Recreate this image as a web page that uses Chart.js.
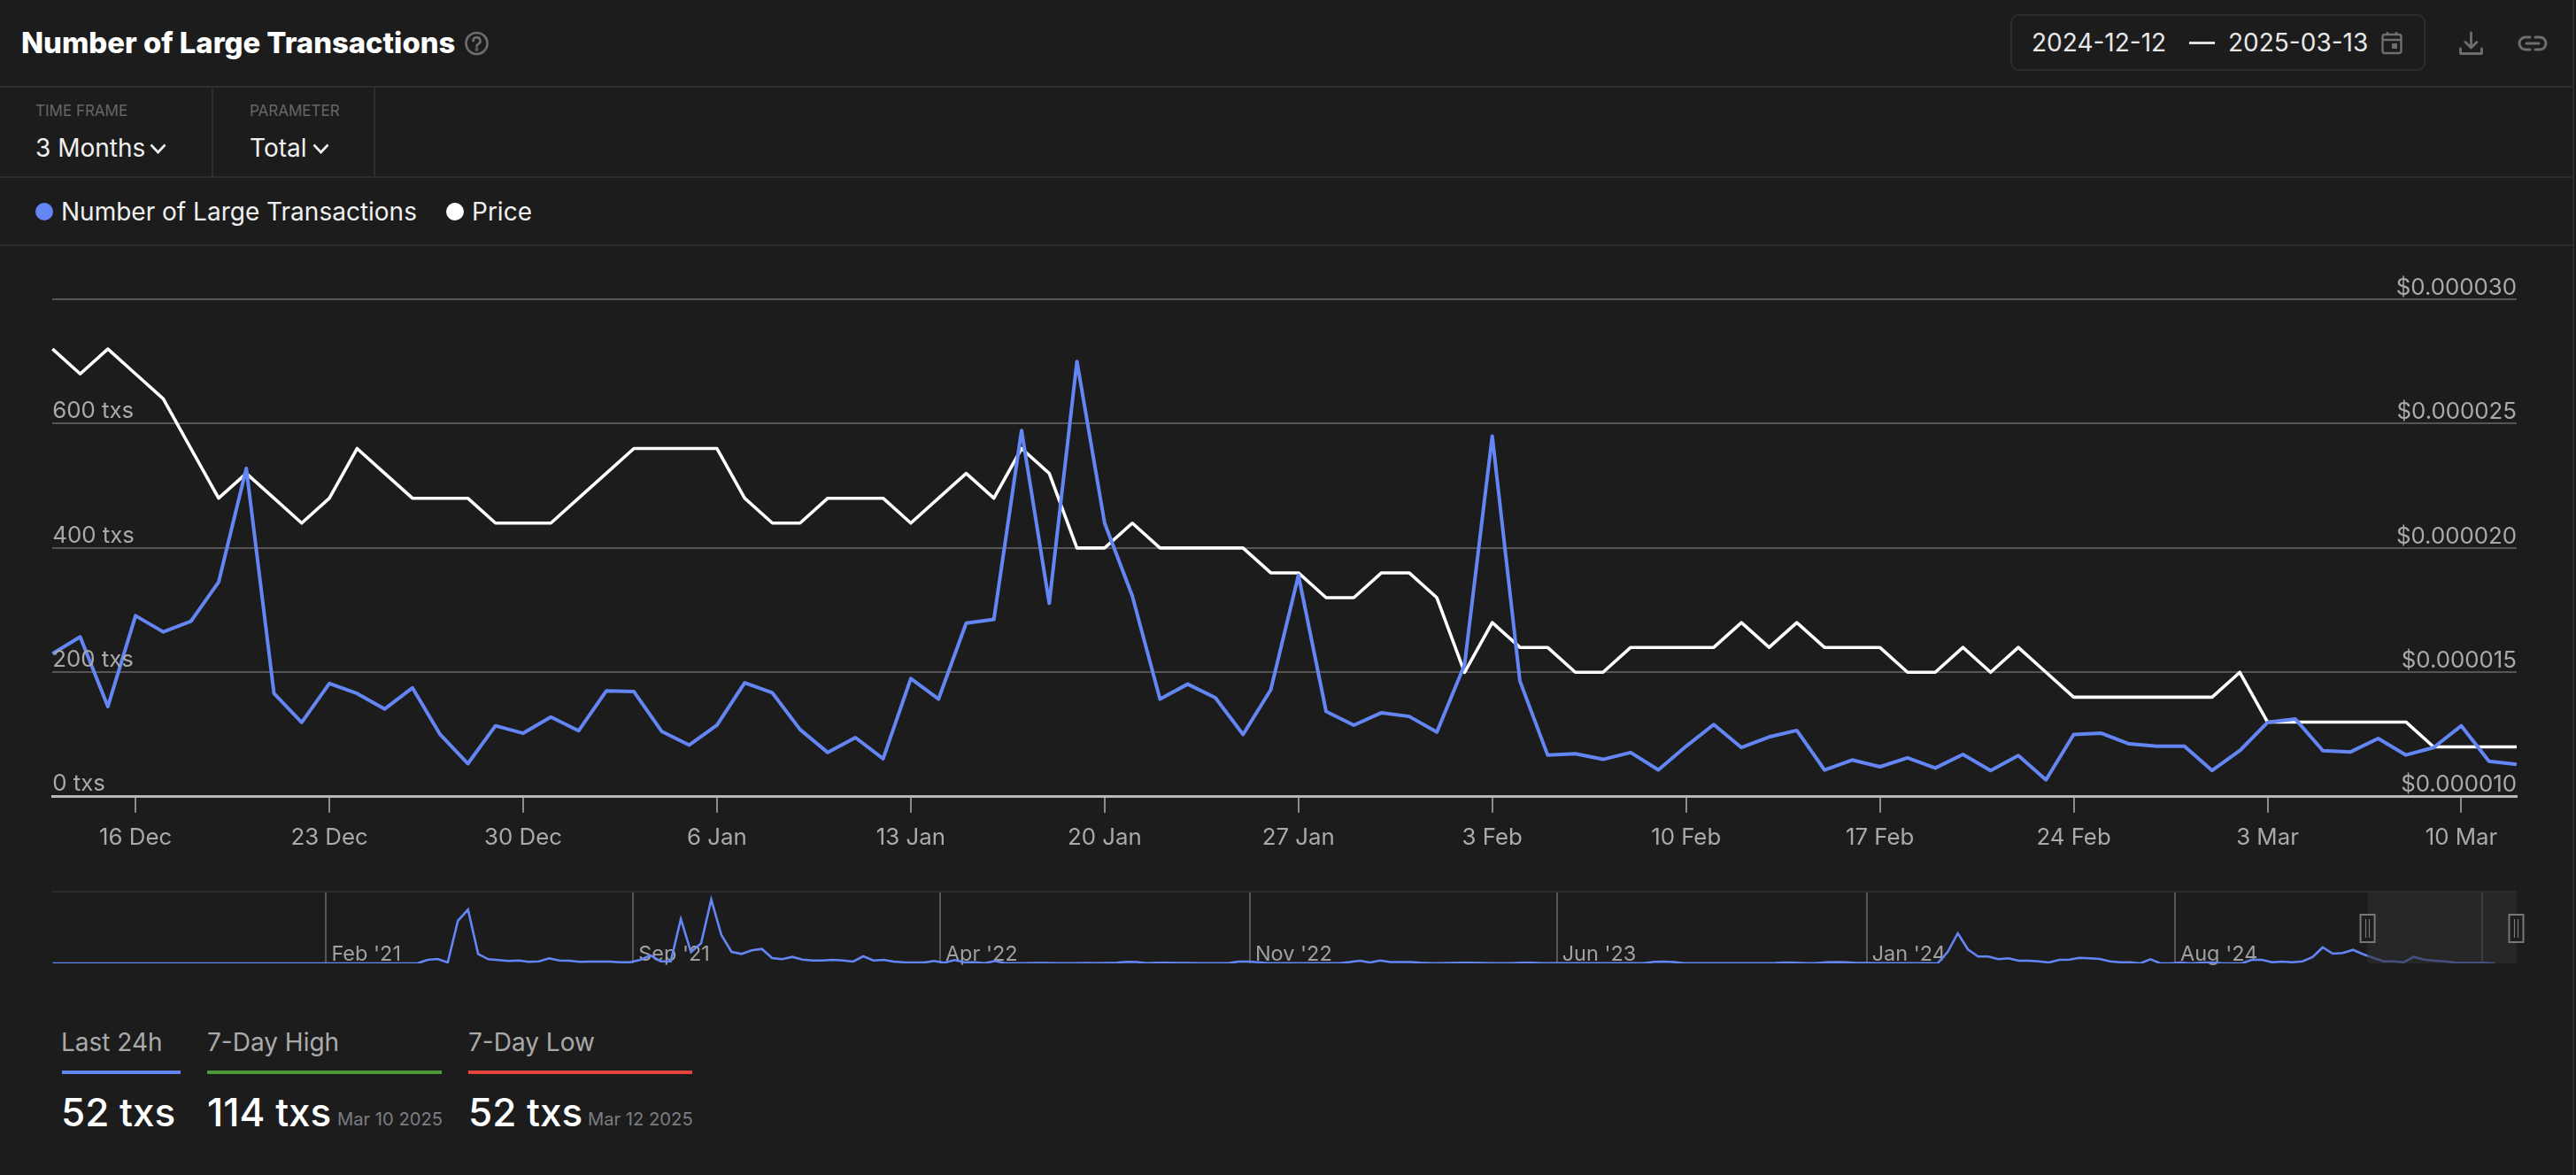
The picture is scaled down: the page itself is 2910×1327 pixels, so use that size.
<!DOCTYPE html>
<html>
<head>
<meta charset="utf-8">
<script src="https://cdn.jsdelivr.net/npm/chart.js@4"></script>
<style>
html,body{margin:0;padding:0;background:#1c1c1c;width:2910px;height:1327px;overflow:hidden;font-family:Inter,"Noto Sans",sans-serif;}
.t{position:absolute;white-space:nowrap;}
.d{position:absolute;background:#2d2d2d;}
svg{position:absolute;overflow:visible;}
canvas{position:absolute;left:0;}
</style>
</head>
<body>
<div class="t" style="left:24px;top:28px;line-height:40px;font-size:32.8px;font-weight:800;color:#fff;">Number of Large Transactions</div>
<svg style="left:525px;top:36px" width="27" height="26" viewBox="0 0 27 26" fill="none" stroke="#6e6e6e" stroke-width="2.6"><circle cx="13.5" cy="13" r="12"/><path d="M9.5 10.2a4 4 0 1 1 5.8 3.5c-1.2.7-1.8 1.4-1.8 2.8" stroke-linecap="round"/><circle cx="13.5" cy="20" r=".6"/></svg>

<div class="t" style="left:2271px;top:16px;width:465px;height:60px;border:2px solid #2c2c2c;border-radius:9px;"></div>
<div class="t" style="left:2295px;top:28px;line-height:40px;font-size:28px;color:#e8e8e8;">2024-12-12</div>
<div class="d" style="left:2473px;top:47px;width:29px;height:3px;background:#e0e0e0"></div>
<div class="t" style="left:2517px;top:28px;line-height:40px;font-size:28px;color:#e8e8e8;">2025-03-13</div>
<svg style="left:2690px;top:35px" width="24" height="26" viewBox="0 0 24 26" fill="none" stroke="#6e6e6e" stroke-width="2.4"><rect x="1.5" y="4" width="21" height="21" rx="2.5"/><path d="M2 10h20M7 1v4M17 1v4"/><rect x="12" y="14" width="6" height="6" fill="#6e6e6e" stroke="none"/></svg>
<svg style="left:2778px;top:36px" width="27" height="27" viewBox="0 0 27 27" fill="none" stroke="#6e6e6e" stroke-width="2.8" stroke-linecap="round" stroke-linejoin="round"><path d="M13.5 1v16M7 11.5l6.5 6.5 6.5-6.5M1.5 19v5.5h24V19"/></svg>
<svg style="left:2844px;top:40px" width="34" height="18" viewBox="0 0 34 18" fill="none" stroke="#6e6e6e" stroke-width="3" stroke-linecap="round"><path d="M14 2H9a7 7 0 0 0 0 14h5M20 2h5a7 7 0 0 1 0 14h-5M10 9h14"/></svg>

<div class="d" style="left:0;top:97px;width:2906px;height:2px"></div>
<div class="d" style="left:0;top:199px;width:2906px;height:2px"></div>
<div class="d" style="left:0;top:276px;width:2906px;height:2px"></div>
<div class="d" style="left:239px;top:98px;width:2px;height:102px"></div>
<div class="d" style="left:422px;top:98px;width:2px;height:102px"></div>
<div class="d" style="left:2906px;top:0;width:2px;height:1327px"></div>

<div class="t" style="left:40px;top:115px;line-height:20px;font-size:17px;color:#666;">TIME FRAME</div>
<div class="t" style="left:40px;top:147px;line-height:40px;font-size:28px;color:#f0f0f0;">3 Months</div>
<svg style="left:169px;top:162px" width="19" height="12" viewBox="0 0 19 12" fill="none" stroke="#f0f0f0" stroke-width="2.6"><path d="M1.5 1.5l8 8.5 8-8.5"/></svg>
<div class="t" style="left:282px;top:115px;line-height:20px;font-size:17px;color:#666;">PARAMETER</div>
<div class="t" style="left:282px;top:147px;line-height:40px;font-size:28px;color:#f0f0f0;">Total</div>
<svg style="left:353px;top:162px" width="19" height="12" viewBox="0 0 19 12" fill="none" stroke="#f0f0f0" stroke-width="2.6"><path d="M1.5 1.5l8 8.5 8-8.5"/></svg>

<div class="t" style="left:40px;top:229px;width:20px;height:20px;border-radius:50%;background:#6486f5"></div>
<div class="t" style="left:69px;top:219px;line-height:40px;font-size:28px;color:#f0f0f0;">Number of Large Transactions</div>
<div class="t" style="left:504px;top:229px;width:20px;height:20px;border-radius:50%;background:#fff"></div>
<div class="t" style="left:533px;top:219px;line-height:40px;font-size:28px;color:#f0f0f0;">Price</div>

<canvas id="main" width="2910" height="680" style="top:300px"></canvas>
<div class="d" style="left:59px;top:1006px;width:2784px;height:2px"></div>
<canvas id="nav" width="2910" height="100" style="top:1000px"></canvas>

<div class="t" style="left:69px;top:1157px;line-height:40px;font-size:28px;color:#aaa;">Last 24h</div>
<div class="d" style="left:70px;top:1209px;width:134px;height:4px;background:#6486f5"></div>
<div class="t" style="left:69px;top:1230px;line-height:52px;font-size:44px;font-weight:500;color:#fff;">52 txs</div>

<div class="t" style="left:234px;top:1157px;line-height:40px;font-size:28px;color:#aaa;">7-Day High</div>
<div class="d" style="left:234px;top:1209px;width:265px;height:4px;background:#4a9a3a"></div>
<div class="t" style="left:234px;top:1230px;line-height:52px;font-size:44px;font-weight:500;color:#fff;">114 txs</div>
<div class="t" style="left:381px;top:1249px;line-height:30px;font-size:20.2px;color:#7a7d82;">Mar 10 2025</div>

<div class="t" style="left:529px;top:1157px;line-height:40px;font-size:28px;color:#aaa;">7-Day Low</div>
<div class="d" style="left:529px;top:1209px;width:253px;height:4px;background:#e8453a"></div>
<div class="t" style="left:529px;top:1230px;line-height:52px;font-size:44px;font-weight:500;color:#fff;">52 txs</div>
<div class="t" style="left:664px;top:1249px;line-height:30px;font-size:20.2px;color:#7a7d82;">Mar 12 2025</div>

<script>
const categories = ['13 Dec','14 Dec','15 Dec','16 Dec','17 Dec','18 Dec','19 Dec','20 Dec','21 Dec','22 Dec','23 Dec','24 Dec','25 Dec','26 Dec','27 Dec','28 Dec','29 Dec','30 Dec','31 Dec',
'1 Jan','2 Jan','3 Jan','4 Jan','5 Jan','6 Jan','7 Jan','8 Jan','9 Jan','10 Jan','11 Jan','12 Jan','13 Jan','14 Jan','15 Jan','16 Jan','17 Jan','18 Jan','19 Jan','20 Jan','21 Jan','22 Jan','23 Jan','24 Jan','25 Jan','26 Jan','27 Jan','28 Jan','29 Jan','30 Jan','31 Jan',
'1 Feb','2 Feb','3 Feb','4 Feb','5 Feb','6 Feb','7 Feb','8 Feb','9 Feb','10 Feb','11 Feb','12 Feb','13 Feb','14 Feb','15 Feb','16 Feb','17 Feb','18 Feb','19 Feb','20 Feb','21 Feb','22 Feb','23 Feb','24 Feb','25 Feb','26 Feb','27 Feb','28 Feb',
'1 Mar','2 Mar','3 Mar','4 Mar','5 Mar','6 Mar','7 Mar','8 Mar','9 Mar','10 Mar','11 Mar','12 Mar'];
const tickLabels = ['16 Dec','23 Dec','30 Dec','6 Jan','13 Jan','20 Jan','27 Jan','3 Feb','10 Feb','17 Feb','24 Feb','3 Mar','10 Mar'];
const largeTxs = [230,257,145,291,265,282,345,528,166,119.5,182,166,141,175,100,53,114,102,128,106,170,169,105,83,115,183,167,108,71,95,61,
190,157,279,285,589,311,700,440,323,157,181,159,100,172,356,137,115,135,129,104,212,580,186,67,69,60,71,43,81,
116,79,96,106.5,43,59,48,62.5,46,68,42,66,27,100,102,85,81,81,42,74,119.5,125,74,72,93.5,67,79,114,57,52];
const priceMicro = [28,27,28,27,26,24,22,23,22,21,22,24,23,22,22,22,21,21,21,22,23,24,24,24,24,22,21,21,22,22,22,
21,22,23,22,24,23,20,20,21,20,20,20,20,19,19,18,18,19,19,18,15,17,16,16,15,15,16,16,16,
16,17,16,17,16,16,16,15,15,16,15,16,15,14,14,14,14,14,14,15,13,13,13,13,13,13,12,12,12,12];
const leftAxisMax = 800, leftAxisStep = 200;
const rightAxisMin = 10, rightAxisMax = 30, rightAxisStep = 5;

const navStartDate = '2020-07-27';
const navEndDate = '2025-03-25';
const navSelectStart = '2024-12-12';
const navValues = [0,0,0,0,0,0,0,0,0,0,0,0,0,0,0,0,0,0,0,0,0,0,0,0,0,0,0,0,0,0,0,0,0,0,0,0,
0,4,5,1,48,60.7,10.7,4.7,3.7,2.7,3.3,1.7,2.3,5.7,3.3,3,1.7,2,2,2,
1.3,1.3,4,9,2.3,2.3,50,12.7,22.7,72,32,13,10.7,14.7,16.3,6,4.7,7.3,4.3,3.3,
3.3,4,3.3,2,8,3.3,4,2,1.3,1,1,2.7,0.7,3.7,1.3,1.3,0.3,2.7,0.3,0.3,
0.3,0.5,0.5,0.3,0.3,0.3,0.5,0.3,0.5,0.8,1.7,1.5,0.3,0.7,0.7,0.5,0.5,0.3,0.2,0.2,
0.2,2,2,1.3,0.3,0.3,0.2,0.2,0.2,0.2,0.2,0.3,1.5,3,1,3.3,1.5,1.5,1.5,0.7,
0.3,0.3,0.5,0.7,0.7,0.5,0.3,0.3,0.3,0.7,0.7,0.3,0.3,0.2,0.2,0.2,0.2,0.2,0.2,0.2,
0.2,0.2,1.7,2,1.5,0.2,0.2,0.2,0.2,0.2,0.2,0.2,0.2,0.3,0.5,1,0.7,0.3,0.3,1.3,
1.5,1.2,0.5,0.5,0.3,0.2,0.2,0.2,0.2,0.2,
0,13,34,15.7,7.7,7.7,4.7,5.7,3,3,2.3,1,4,4.3,6.3,5.7,5,2.3,1.3,1.3,0,4.7,0,0,1,0,0.7,1,0.3,0,0,4,4,1.3,2,1.3,2.3,7,18,11,11.7,15.3,10.3,6.3,2.3,2.3,1.3,7.3,4.3,3,2.3,1,0.7,0.7,0.7,0];
const navTickDates = ['2021-02-01','2021-09-01','2022-04-01','2022-11-01','2023-06-01','2024-01-01','2024-08-01','2025-03-01'];
const navTickLabels = ["Feb '21","Sep '21","Apr '22","Nov '22","Jun '23","Jan '24","Aug '24",""];

const FONT = 'Inter';
const BLUE = '#6486f5';
const day = s => Date.parse(s + 'T00:00:00Z') / 864e5;

new Chart(document.getElementById('main'), {
  type: 'line',
  data: {
    labels: categories,
    datasets: [
      {label:'Number of Large Transactions', data: largeTxs, yAxisID:'y', borderColor: BLUE, borderWidth: 4, pointRadius: 0, tension: 0, order: 0, borderJoinStyle:'round'},
      {label:'Price', data: priceMicro, yAxisID:'y2', borderColor:'#ffffff', borderWidth: 3.6, pointRadius: 0, tension: 0, order: 1, borderJoinStyle:'round'}
    ]
  },
  options: {
    responsive: false, animation: false, devicePixelRatio: 1,
    layout: {padding: {left: 59.3, right: 67, top: 38, bottom: 0}},
    plugins: {legend: {display:false}, tooltip: {enabled:false}},
    scales: {
      x: {
        type:'category', offset:false,
        afterBuildTicks: s => { s.ticks = s.ticks.filter(t => tickLabels.includes(categories[t.value])); },
        afterFit: s => { s.height = 80.3; },
        grid: {drawOnChartArea:false, drawTicks:true, tickLength:18, color:'#8c8c8c', lineWidth:2},
        border: {display:true, color:'#b8b8b8', width:3},
        ticks: {autoSkip:false, maxRotation:0, padding:13, color:'#aaaaaa', font:{family:FONT,size:25.8}}
      },
      y: {
        position:'left', min:0, max:leftAxisMax,
        afterFit: s => { s.width = 0; },
        grid: {color:'#555555', lineWidth:2, drawTicks:false},
        border: {display:false},
        ticks: {mirror:true, padding:0, stepSize:leftAxisStep, labelOffset:-14, z:2, color:'#aaaaaa', font:{family:FONT,size:25.8},
          callback: v => v === leftAxisMax ? '' : v + ' txs'}
      },
      y2: {
        position:'right', min:rightAxisMin, max:rightAxisMax,
        afterFit: s => { s.width = 0; },
        grid: {display:false, drawTicks:false},
        border: {display:false},
        ticks: {mirror:true, padding:0, stepSize:rightAxisStep, labelOffset:-13, z:2, color:'#aaaaaa', font:{family:FONT,size:25.8},
          callback: v => '$0.0000' + v}
      }
    }
  }
});

const navOverlay = {
  id:'navOverlay',
  afterDatasetsDraw(chart){
    const {ctx, chartArea:a, scales:{x}} = chart;
    const l = x.getPixelForValue(day(navSelectStart)), r = a.right;
    ctx.save();
    ctx.fillStyle = 'rgba(46,46,46,0.6)';
    ctx.fillRect(l, a.top, r - l, a.bottom - a.top);
    for (const cx of [l, r - 0.5]) {
      ctx.fillStyle = '#1c1c1c';
      ctx.strokeStyle = '#777';
      ctx.lineWidth = 2;
      ctx.fillRect(cx - 8, 33, 16, 31);
      ctx.strokeRect(cx - 8, 33, 16, 31);
      ctx.beginPath();
      ctx.moveTo(cx - 2, 38); ctx.lineTo(cx - 2, 59);
      ctx.moveTo(cx + 2, 38); ctx.lineTo(cx + 2, 59);
      ctx.lineWidth = 1.2;
      ctx.stroke();
    }
    ctx.restore();
  }
};

new Chart(document.getElementById('nav'), {
  type:'line',
  data: {
    datasets: [{data: navValues.map((v,i) => ({x: day(navStartDate) + 7*i, y: v})), borderColor: BLUE, borderWidth: 2.6, pointRadius: 0, tension: 0}]
  },
  plugins:[navOverlay],
  options: {
    responsive:false, animation:false, devicePixelRatio:1, parsing:false,
    layout:{padding:{left:59.3, right:67, top:8, bottom:12}},
    plugins:{legend:{display:false}, tooltip:{enabled:false}},
    scales:{
      x:{
        type:'linear', min:day(navStartDate), max:day(navEndDate),
        afterBuildTicks: s => { s.ticks = navTickDates.map(d => ({value: day(d)})); },
        afterFit: s => { s.height = 0; },
        grid:{color:'#555555', lineWidth:2, drawTicks:false},
        border:{display:false},
        ticks:{autoSkip:false, mirror:true, maxRotation:0, align:'start', padding:-4, labelOffset:6, color:'#a0a0a0', font:{family:FONT,size:23.5},
          callback: v => navTickLabels[navTickDates.findIndex(d => day(d) === v)]}
      },
      y:{display:false, min:0, max:80}
    }
  }
});
</script>
</body>
</html>
